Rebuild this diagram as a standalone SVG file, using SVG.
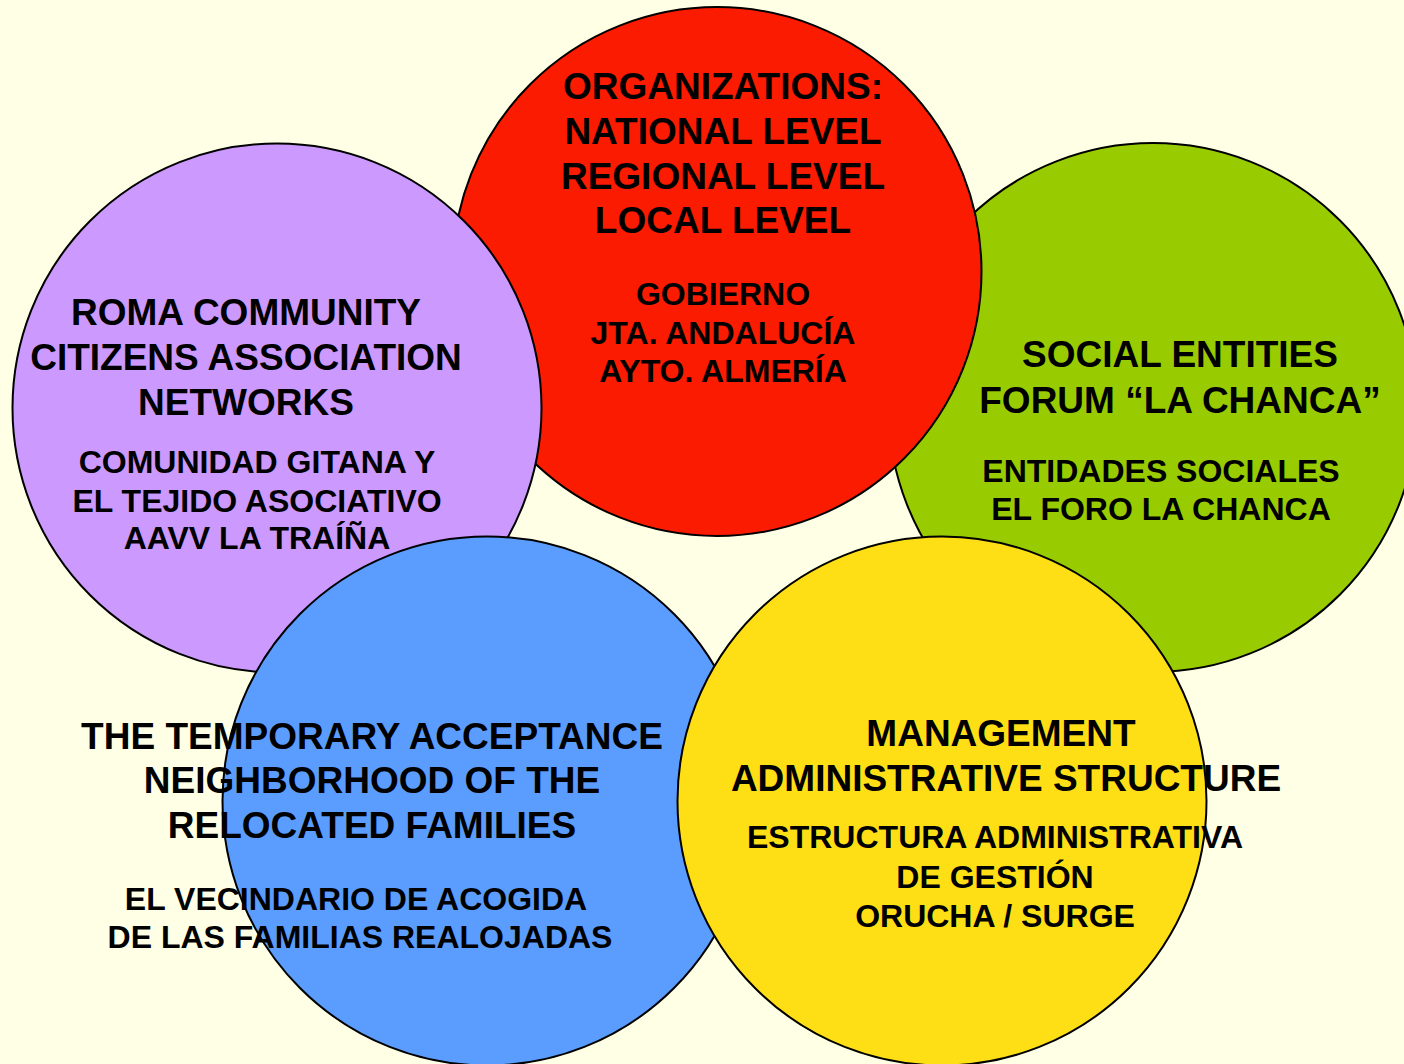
<svg xmlns="http://www.w3.org/2000/svg" width="1404" height="1064" viewBox="0 0 1404 1064">
<style>
.c{stroke:#000;stroke-width:2}
.h{font-family:"Liberation Sans",Arial,sans-serif;font-weight:bold;font-size:37px;fill:#000;text-anchor:middle}
.s{font-family:"Liberation Sans",Arial,sans-serif;font-weight:bold;font-size:32px;fill:#000;text-anchor:middle}
</style>
<rect width="1404" height="1064" fill="#FFFFE6"/>
<g id="circles">
<circle id="circle-social" class="c" cx="1153" cy="407.5" r="264.5" fill="#99CC00"/>
<circle id="circle-organizations" class="c" cx="717" cy="271.5" r="264.5" fill="#FA1B00"/>
<circle id="circle-roma" class="c" cx="277" cy="408" r="264.5" fill="#CC99FF"/>
<circle id="circle-neighborhood" class="c" cx="487" cy="801" r="264.5" fill="#5B9DFF"/>
<circle id="circle-management" class="c" cx="942" cy="801" r="264.5" fill="#FEDF16"/>
</g>
<g id="node-social">
<text class="h" x="1180" y="367">SOCIAL ENTITIES</text>
<text class="h" x="1180" y="413">FORUM “LA CHANCA”</text>
<text class="s" x="1161" y="482">ENTIDADES SOCIALES</text>
<text class="s" x="1161" y="520">EL FORO LA CHANCA</text>
</g>
<g id="node-organizations">
<text class="h" x="723" y="99">ORGANIZATIONS:</text>
<text class="h" x="723" y="144">NATIONAL LEVEL</text>
<text class="h" x="723" y="189">REGIONAL LEVEL</text>
<text class="h" x="723" y="233">LOCAL LEVEL</text>
<text class="s" x="723" y="305">GOBIERNO</text>
<text class="s" x="723" y="344">JTA. ANDALUCÍA</text>
<text class="s" x="723" y="382">AYTO. ALMERÍA</text>
</g>
<g id="node-roma">
<text class="h" x="246" y="325">ROMA COMMUNITY</text>
<text class="h" x="246" y="370">CITIZENS ASSOCIATION</text>
<text class="h" x="246" y="415">NETWORKS</text>
<text class="s" x="257" y="473">COMUNIDAD GITANA Y</text>
<text class="s" x="257" y="512">EL TEJIDO ASOCIATIVO</text>
<text class="s" x="257" y="549">AAVV LA TRAÍÑA</text>
</g>
<g id="node-neighborhood">
<text class="h" x="372" y="749">THE TEMPORARY ACCEPTANCE</text>
<text class="h" x="372" y="793">NEIGHBORHOOD OF THE</text>
<text class="h" x="372" y="838">RELOCATED FAMILIES</text>
<text class="s" x="356" y="910">EL VECINDARIO DE ACOGIDA</text>
<text class="s" x="360" y="948">DE LAS FAMILIAS REALOJADAS</text>
</g>
<g id="node-management">
<text class="h" x="1001" y="746">MANAGEMENT</text>
<text class="h" x="1006" y="791">ADMINISTRATIVE STRUCTURE</text>
<text class="s" x="995" y="848">ESTRUCTURA ADMINISTRATIVA</text>
<text class="s" x="995" y="888">DE GESTIÓN</text>
<text class="s" x="995" y="927">ORUCHA / SURGE</text>
</g>
<g id="connectors"></g>
</svg>
